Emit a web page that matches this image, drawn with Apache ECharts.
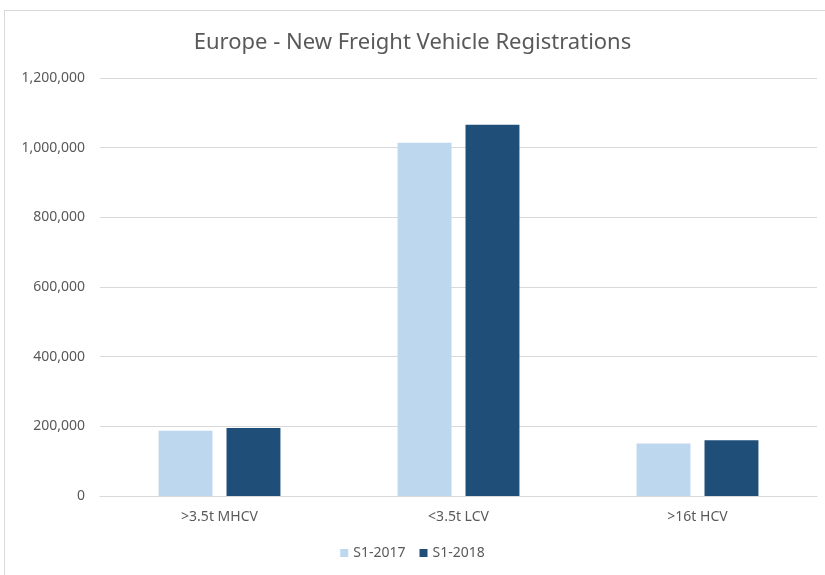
<!DOCTYPE html>
<html>
<head>
<meta charset="utf-8">
<script src="https://cdn.jsdelivr.net/npm/echarts@6/dist/echarts.min.js"></script>
<style>
  html, body { margin: 0; padding: 0; background: #fff; }
  #frame { position: absolute; left: 4px; top: 10px; width: 900px; height: 700px; border: 1px solid #d9d9d9; }
  #chart { position: absolute; left: 0; top: 0; width: 825px; height: 575px; }
</style>
</head>
<body>
<div id="frame"></div>
<div id="chart"></div>
<script>
var categories = ['>3.5t MHCV', '<3.5t LCV', '>16t HCV'];
var s2017 = [187000, 1014000, 151000];
var s2018 = [195000, 1066000, 160000];

var myChart = echarts.init(document.getElementById('chart'));

var option = {
    textStyle: { fontFamily: 'Noto Sans' },
    title: {
        text: 'Europe - New Freight Vehicle Registrations',
        left: 'center',
        top: 27,
        textStyle: { fontSize: 22, fontWeight: 'normal', color: '#595959', fontFamily: 'Noto Sans' }
    },
    legend: {
        data: ['S1-2017', 'S1-2018'],
        bottom: 10,
        left: 'center',
        itemWidth: 8,
        itemHeight: 8,
        itemGap: 14,
        icon: 'rect',
        textStyle: { color: '#595959', fontSize: 14 }
    },
    grid: { left: 100, right: 8, top: 78, bottom: 79 },
    xAxis: {
        type: 'category',
        data: categories,
        axisLine: { lineStyle: { color: '#d9d9d9' } },
        axisTick: { show: false },
        axisLabel: { color: '#595959', fontSize: 14, margin: 14 }
    },
    yAxis: {
        type: 'value',
        min: 0,
        max: 1200000,
        interval: 200000,
        axisLine: { show: false },
        axisTick: { show: false },
        splitLine: { lineStyle: { color: '#d9d9d9' } },
        axisLabel: {
            color: '#595959',
            fontSize: 14,
            margin: 15,
            formatter: function (v) { return v.toLocaleString('en-US'); }
        }
    },
    series: [{
        name: 'S1-2017',
        type: 'bar',
        data: s2017,
        barGap: '26%',
        barCategoryGap: '49%',
        itemStyle: { color: '#bdd7ee' }
    }, {
        name: 'S1-2018',
        type: 'bar',
        data: s2018,
        itemStyle: { color: '#1f4e79' }
    }]
};

myChart.setOption(option);
</script>
</body>
</html>
